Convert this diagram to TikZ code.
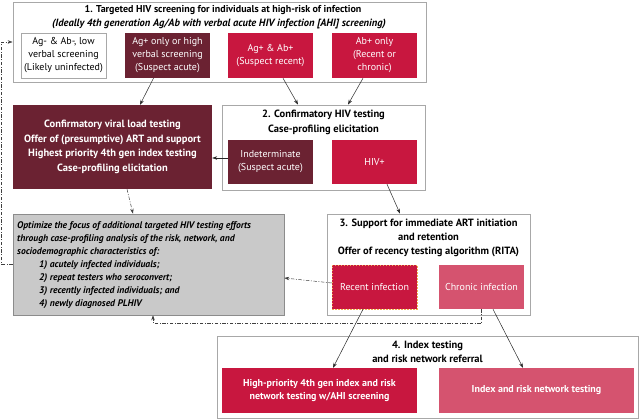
\documentclass[tikz,border=0pt]{standalone}
\usepackage{fontspec}
\setmainfont{PT Sans}
\usetikzlibrary{arrows.meta}
\definecolor{framegray}{HTML}{A8A8A8}
\definecolor{maroon}{HTML}{6B2232}
\definecolor{crimson}{HTML}{C8173F}
\definecolor{pinkish}{HTML}{D5536F}
\definecolor{grayfill}{HTML}{C9C9C9}
\definecolor{grayline}{HTML}{8C8C8C}
\definecolor{dashorange}{HTML}{F0B050}
\tikzset{
  frame/.style={draw=framegray, line width=0.8pt, fill=white, inner sep=0pt},
  inbox/.style={minimum width=85pt, minimum height=45pt, inner sep=1pt, align=center,
    font=\fontsize{10}{13}\selectfont, text=white},
  ttl/.style={font=\bfseries\fontsize{10.5}{13}\selectfont, inner sep=0pt, align=center},
  arr/.style={-{Stealth[length=5pt,width=3.5pt]}, line width=0.5pt, draw=black!85},
  dd/.style={-{Stealth[length=5pt,width=3.5pt]}, line width=0.5pt, draw=black!75,
    dash pattern=on 3.5pt off 1.5pt on 1pt off 1.5pt},
}
\begin{document}
\begin{tikzpicture}[x=1pt,y=-1pt]
\useasboundingbox (0,0) rectangle (640,419);
% Box 1
\node[frame, minimum width=413pt, minimum height=80pt] (box1) at (219.5,42) {};
\node[ttl, font=\bfseries\fontsize{10}{13}\selectfont] (t1a) at (223,10) {1. Targeted HIV screening for individuals at high-risk of infection};
\node[ttl, font=\bfseries\itshape\fontsize{10.5}{13}\selectfont] (t1b) at (219,24) {(Ideally 4th generation Ag/Ab with verbal acute HIV infection [AHI] screening)};
\node[inbox, draw=framegray, line width=0.6pt, fill=white, text=black] (agneg) at (63.5,55.5) {Ag- \& Ab-, low\\verbal screening\\(Likely uninfected)};
\node[inbox, fill=maroon] (agonly) at (167.5,55.5) {Ag+ only or high\\verbal screening\\(Suspect acute)};
\node[inbox, fill=crimson] (agab) at (270.5,55.5) {Ag+ \& Ab+\\(Suspect recent)};
\node[inbox, fill=crimson] (abonly) at (374.5,55.5) {Ab+ only\\(Recent or\\chronic)};
% Box 2
\node[frame, minimum width=203pt, minimum height=85pt] (box2) at (323.5,147.5) {};
\node[ttl] (t2a) at (323.5,115) {2. Confirmatory HIV testing};
\node[ttl] (t2b) at (323.5,130) {Case-profiling elicitation};
\node[inbox, fill=maroon, minimum height=44pt] (indet) at (270.5,162) {Indeterminate\\(Suspect acute)};
\node[inbox, fill=crimson, minimum height=44pt] (hivpos) at (374.5,162) {HIV+};
% Dark box
\node[fill=maroon, minimum width=199pt, minimum height=84pt, text=white, align=center,
  font=\bfseries\fontsize{10.5}{14.5}\selectfont, inner sep=0pt] (dark) at (112.5,147)
  {Confirmatory viral load testing\\Offer of (presumptive) ART and support\\Highest priority 4th gen index testing\\Case-profiling elicitation};
% Gray box
\node[draw=grayline, line width=0.6pt, fill=grayfill, minimum width=271pt, minimum height=101pt, inner sep=0pt] (gray) at (148.5,264.5) {};
\node[anchor=north west, align=left, inner sep=0pt, font=\bfseries\itshape\fontsize{9.6}{13.1}\selectfont] (graytext) at (17,221)
  {Optimize the focus of additional targeted HIV testing efforts\\
   through case-profiling analysis of the risk, network, and\\
   sociodemographic characteristics of:\\
   \hspace*{22pt}1) acutely infected individuals;\\
   \hspace*{22pt}2) repeat testers who seroconvert;\\
   \hspace*{22pt}3) recently infected individuals; and\\
   \hspace*{22pt}4) newly diagnosed PLHIV};
% Box 3
\node[frame, minimum width=203pt, minimum height=101pt] (box3) at (428.5,264.5) {};
\node[ttl] (t3a) at (428.5,224) {3. Support for immediate ART initiation};
\node[ttl] (t3b) at (428.5,237) {and retention};
\node[ttl] (t3c) at (428.5,252) {Offer of recency testing algorithm (RITA)};
\node[inbox, fill=crimson, minimum height=44pt, draw=dashorange, dash pattern=on 1.5pt off 1.5pt, line width=0.5pt] (recent) at (374.5,287) {Recent infection};
\node[inbox, fill=pinkish, minimum height=44pt] (chronic) at (481.5,287) {Chronic infection};
% Box 4
\node[frame, minimum width=421pt, minimum height=82pt] (box4) at (427.5,377) {};
\node[ttl] (t4a) at (427.5,346) {4. Index testing};
\node[ttl] (t4b) at (427.5,359) {and risk network referral};
\node[inbox, fill=crimson, minimum width=195pt, font=\bfseries\fontsize{10}{13}\selectfont] (highp) at (319.5,390.5) {High-priority 4th gen index and risk\\network testing w/AHI screening};
\node[inbox, fill=pinkish, minimum width=195pt, font=\bfseries\fontsize{10}{13}\selectfont] (index) at (536.5,390.5) {Index and risk network testing};
% Arrows
\draw[arr] ([xshift=-14pt]agonly.south) -- ([xshift=27.5pt]dark.north);
\draw[arr] ([xshift=12.5pt]agab.south) -- ([xshift=-25.5pt]box2.north);
\draw[arr] ([xshift=-11.5pt]abonly.south) -- ([xshift=24.5pt]box2.north);
\draw[arr] ([yshift=4pt]indet.west) -- ([yshift=4pt]indet.west -| dark.east);
\draw[arr] ([xshift=12.5pt]hivpos.south) -- ([xshift=-28.5pt]box3.north);
\draw[arr] ([xshift=-11.5pt]recent.south) -- ([xshift=13.5pt]highp.north);
\draw[arr] ([xshift=11.5pt]chronic.south) -- ([xshift=-13.5pt]index.north);
\draw[dd] ([xshift=14.5pt]dark.south) -- ([xshift=-15.5pt]gray.north);
\draw[dd] ([yshift=4pt]recent.west) -- ([yshift=-13.5pt]gray.east);
\draw[dd] (chronic.south) -- ++(0,14) -| ([xshift=4.5pt]gray.south);
\draw[dd] (gray.west) -- ++(-11,0) |- (box1.west);
\end{tikzpicture}
\end{document}
